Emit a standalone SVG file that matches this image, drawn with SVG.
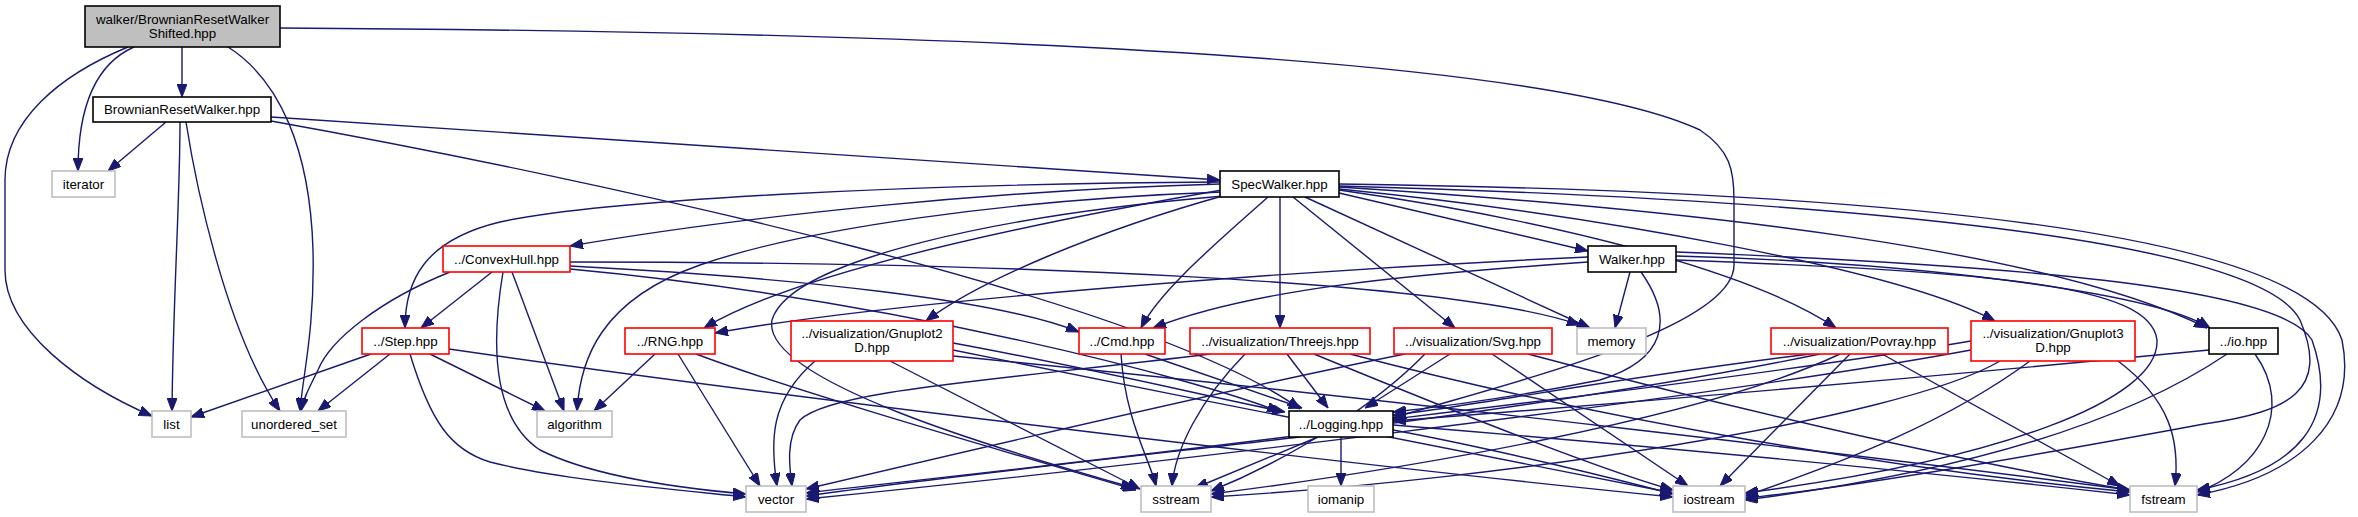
<svg xmlns="http://www.w3.org/2000/svg" width="2358" height="517" viewBox="0 0 2358 517">
<defs>
<style>
.e{fill:none;stroke:#191970;stroke-width:1.4;marker-end:url(#ah)}
.n rect{fill:#ffffff;stroke:#000000;stroke-width:1.6}
.r rect{fill:#ffffff;stroke:#ff0000;stroke-width:1.6}
.g rect{fill:#ffffff;stroke:#bfbfbf;stroke-width:1.6}
.root rect{fill:#bfbfbf;stroke:#000000;stroke-width:1.6}
text{font-family:"Liberation Sans",Arial,Helvetica,sans-serif;font-size:13.3px;fill:#000000;text-anchor:middle}
</style>
<marker id="ah" markerWidth="13" markerHeight="10" refX="13" refY="5" orient="auto" markerUnits="userSpaceOnUse">
<path d="M0,0 L13,5 L0,10 z" fill="#191970" stroke="#191970" stroke-width="1"/>
</marker>
</defs>
<rect width="2358" height="517" fill="#ffffff"/>
<g id="connectors">
<!-- root -->
<path class="e" d="M182,47 L182,97"/>
<path class="e" d="M134,47 C100,62 78,100 78,171"/>
<path class="e" d="M128,47 C60,75 5,120 5,180 L5,270 C5,330 80,385 152,416"/>
<path class="e" d="M228,47 C280,80 310,150 313,250 C315,330 302,380 300,411"/>
<path class="e" d="M280,28 C1000,32 1550,60 1700,130 C1730,150 1734,170 1734,200 L1734,265 C1734,330 1500,385 1393,418"/>
<!-- BRW -->
<path class="e" d="M166,122 L108,171"/>
<path class="e" d="M180,122 C180,200 173,300 172,411"/>
<path class="e" d="M186,122 C195,180 225,330 280,411"/>
<path class="e" d="M271,117 L1220,180"/>
<path class="e" d="M271,121 C600,180 1150,300 1300,409"/>
<!-- SpecWalker -->
<path class="e" d="M1220,184 C1000,190 750,215 570,246"/>
<path class="e" d="M1220,182 C900,184 600,200 500,222 C425,240 405,280 405,328"/>
<path class="e" d="M1222,190 C1050,220 800,270 704,328"/>
<path class="e" d="M1222,192 C1000,200 800,230 700,265 C600,300 580,360 577,411"/>
<path class="e" d="M1226,195 C1100,230 980,280 926,321"/>
<path class="e" d="M1224,196 C1000,215 790,260 772,320 C760,380 1000,450 1134,488"/>
<path class="e" d="M1268,197 C1220,240 1160,290 1141,328"/>
<path class="e" d="M1280,197 L1280,328"/>
<path class="e" d="M1293,197 L1455,328"/>
<path class="e" d="M1305,197 L1590,328"/>
<path class="e" d="M1339,193 L1588,251"/>
<path class="e" d="M1339,190 C1550,220 1750,270 1836,328"/>
<path class="e" d="M1339,189 C1600,215 1900,270 1995,321"/>
<path class="e" d="M1339,187 C1700,210 2050,250 2207,328"/>
<path class="e" d="M1339,186 C1850,200 2260,240 2300,320 C2330,390 2290,412 2204,424 C2080,447 1850,488 1745,498"/>
<path class="e" d="M1339,184 C1950,192 2310,240 2342,340 C2358,420 2300,476 2197,495"/>
<!-- ConvexHull -->
<path class="e" d="M492,272 L421,328"/>
<path class="e" d="M450,272 C380,300 330,340 318,370 C308,390 303,400 301,411"/>
<path class="e" d="M512,272 L564,411"/>
<path class="e" d="M503,272 C490,350 495,420 540,450 C600,480 700,490 746,494"/>
<path class="e" d="M570,266 C800,278 1000,300 1079,332"/>
<path class="e" d="M570,269 C900,300 1200,380 1280,412"/>
<path class="e" d="M570,262 C1000,262 1450,280 1580,325"/>
<!-- Walker -->
<path class="e" d="M1588,257 C1300,270 900,300 715,333"/>
<path class="e" d="M1588,262 C1400,275 1250,290 1153,328"/>
<path class="e" d="M1630,272 L1615,328"/>
<path class="e" d="M1641,272 C1675,320 1665,360 1600,380 C1500,400 1430,408 1393,412"/>
<path class="e" d="M1676,256 C1900,262 2150,290 2210,328"/>
<path class="e" d="M1676,260 C2000,272 2150,285 2157,340 C2160,400 2000,460 1745,493"/>
<path class="e" d="M1676,252 C2000,265 2280,285 2312,340 C2340,420 2300,470 2197,490"/>
<!-- Step -->
<path class="e" d="M371,354 L191,417"/>
<path class="e" d="M390,354 L318,411"/>
<path class="e" d="M430,354 L545,411"/>
<path class="e" d="M410,354 C430,420 450,450 490,462 C560,480 680,490 746,497"/>
<path class="e" d="M449,349 C800,400 1400,470 1673,497"/>
<!-- RNG -->
<path class="e" d="M655,354 L594,411"/>
<path class="e" d="M678,354 L760,486"/>
<path class="e" d="M696,354 C800,393 1000,450 1136,490"/>
<!-- Gnuplot2D -->
<path class="e" d="M815,361 C770,400 770,440 777,486"/>
<path class="e" d="M890,361 L1140,489"/>
<path class="e" d="M953,343 C1100,370 1200,395 1285,412"/>
<path class="e" d="M953,350 C1200,400 1500,460 1673,493"/>
<path class="e" d="M953,356 C1400,400 1900,460 2130,490"/>
<!-- Cmd -->
<path class="e" d="M1121,354 C1125,420 1150,460 1156,486"/>
<path class="e" d="M1145,354 L1302,408"/>
<!-- Threejs -->
<path class="e" d="M1210,354 C1000,380 830,390 800,420 C785,440 790,470 792,486"/>
<path class="e" d="M1245,354 C1200,400 1175,450 1172,486"/>
<path class="e" d="M1287,354 L1328,408"/>
<path class="e" d="M1314,354 C1450,410 1600,470 1673,490"/>
<path class="e" d="M1350,354 C1600,420 1900,470 2130,492"/>
<!-- Svg -->
<path class="e" d="M1405,354 C1250,385 950,455 806,489"/>
<path class="e" d="M1425,354 C1380,400 1300,455 1211,491"/>
<path class="e" d="M1450,354 L1365,408"/>
<path class="e" d="M1492,354 L1688,486"/>
<path class="e" d="M1528,354 C1700,400 1950,460 2130,490"/>
<!-- Logging -->
<path class="e" d="M1300,437 C1100,460 900,482 806,496"/>
<path class="e" d="M1318,437 L1195,488"/>
<path class="e" d="M1341,437 L1341,486"/>
<path class="e" d="M1393,430 C1500,450 1620,480 1673,494"/>
<path class="e" d="M1393,425 C1700,450 1950,475 2130,495"/>
<!-- Povray -->
<path class="e" d="M1810,354 C1600,380 1450,410 1393,415"/>
<path class="e" d="M1820,354 C1500,420 1000,470 806,493"/>
<path class="e" d="M1840,354 C1700,420 1400,470 1211,494"/>
<path class="e" d="M1850,354 L1720,486"/>
<path class="e" d="M1882,354 L2120,486"/>
<!-- Gnuplot3D -->
<path class="e" d="M1971,341 C1800,370 1550,400 1393,419"/>
<path class="e" d="M1971,350 C1700,400 1100,470 806,499"/>
<path class="e" d="M2000,361 C1900,420 1500,480 1211,497"/>
<path class="e" d="M2030,361 C1950,420 1850,460 1745,496"/>
<path class="e" d="M2118,361 C2170,400 2180,440 2175,486"/>
<!-- io -->
<path class="e" d="M2209,350 C1900,380 1600,405 1393,421"/>
<path class="e" d="M2227,354 C2100,440 1900,480 1745,500"/>
<path class="e" d="M2255,354 C2295,410 2260,470 2197,492"/>
</g>
<g id="node-root" class="root"><rect x="85" y="6" width="195" height="41"/><text x="182.5" y="23.5">walker/BrownianResetWalker</text><text x="182.5" y="38">Shifted.hpp</text></g>
<g id="node-brw" class="n"><rect x="93" y="97" width="178" height="25"/><text x="182" y="114">BrownianResetWalker.hpp</text></g>
<g id="node-iterator" class="g"><rect x="52" y="171" width="63" height="26"/><text x="83.5" y="188.5">iterator</text></g>
<g id="node-specwalker" class="n"><rect x="1220" y="171" width="119" height="26"/><text x="1279.5" y="188.5">SpecWalker.hpp</text></g>
<g id="node-convexhull" class="r"><rect x="443" y="246" width="127" height="26"/><text x="506.5" y="263.5">../ConvexHull.hpp</text></g>
<g id="node-walker" class="n"><rect x="1588" y="246" width="88" height="26"/><text x="1632" y="263.5">Walker.hpp</text></g>
<g id="node-step" class="r"><rect x="362" y="328" width="87" height="26"/><text x="405.5" y="345.5">../Step.hpp</text></g>
<g id="node-rng" class="r"><rect x="625" y="328" width="90" height="26"/><text x="670" y="345.5">../RNG.hpp</text></g>
<g id="node-gnuplot2d" class="r"><rect x="791" y="321" width="162" height="40"/><text x="872" y="337.5">../visualization/Gnuplot2</text><text x="872" y="352">D.hpp</text></g>
<g id="node-cmd" class="r"><rect x="1079" y="328" width="86" height="26"/><text x="1122" y="345.5">../Cmd.hpp</text></g>
<g id="node-threejs" class="r"><rect x="1190" y="328" width="180" height="26"/><text x="1280" y="345.5">../visualization/Threejs.hpp</text></g>
<g id="node-svg" class="r"><rect x="1394" y="328" width="158" height="26"/><text x="1473" y="345.5">../visualization/Svg.hpp</text></g>
<g id="node-memory" class="g"><rect x="1577" y="328" width="69" height="26"/><text x="1611.5" y="345.5">memory</text></g>
<g id="node-povray" class="r"><rect x="1771" y="328" width="177" height="26"/><text x="1859.5" y="345.5">../visualization/Povray.hpp</text></g>
<g id="node-gnuplot3d" class="r"><rect x="1971" y="321" width="164" height="40"/><text x="2053" y="337.5">../visualization/Gnuplot3</text><text x="2053" y="352">D.hpp</text></g>
<g id="node-io" class="n"><rect x="2209" y="328" width="69" height="26"/><text x="2243.5" y="345.5">../io.hpp</text></g>
<g id="node-list" class="g"><rect x="152" y="411" width="39" height="26"/><text x="171.5" y="428.5">list</text></g>
<g id="node-unordered_set" class="g"><rect x="242" y="411" width="104" height="26"/><text x="294" y="428.5">unordered_set</text></g>
<g id="node-algorithm" class="g"><rect x="537" y="411" width="75" height="26"/><text x="574.5" y="428.5">algorithm</text></g>
<g id="node-logging" class="n"><rect x="1289" y="411" width="104" height="26"/><text x="1341" y="428.5">../Logging.hpp</text></g>
<g id="node-vector" class="g"><rect x="746" y="486" width="60" height="26"/><text x="776" y="503.5">vector</text></g>
<g id="node-sstream" class="g"><rect x="1141" y="486" width="70" height="26"/><text x="1176" y="503.5">sstream</text></g>
<g id="node-iomanip" class="g"><rect x="1308" y="486" width="66" height="26"/><text x="1341" y="503.5">iomanip</text></g>
<g id="node-iostream" class="g"><rect x="1673" y="486" width="72" height="26"/><text x="1709" y="503.5">iostream</text></g>
<g id="node-fstream" class="g"><rect x="2130" y="486" width="67" height="26"/><text x="2163.5" y="503.5">fstream</text></g>
</svg>
